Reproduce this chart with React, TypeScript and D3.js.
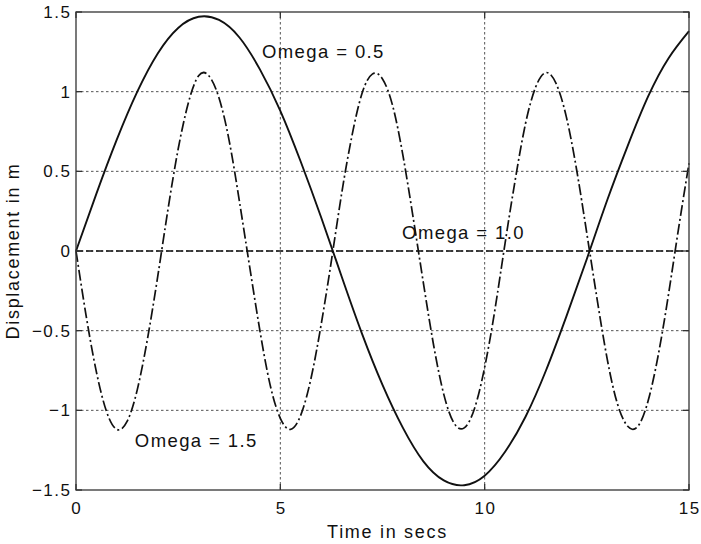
import { useEffect, useRef } from 'react';
import * as d3 from 'd3';

// time axis samples (s)
const timeA = [0, 0.5, 1, 1.5, 2, 2.5, 3, 3.5, 4, 4.5, 5, 5.5, 6, 6.5, 7, 7.5, 8, 8.5, 9, 9.5, 10, 10.5, 11, 11.5, 12, 12.5, 13, 13.5, 14, 14.5, 15];
// Omega = 0.5, solid
const omega05 = [0, 0.36, 0.70, 1.0, 1.24, 1.40, 1.47, 1.45, 1.34, 1.14, 0.88, 0.56, 0.21, -0.16, -0.52, -0.84, -1.11, -1.32, -1.44, -1.47, -1.41, -1.26, -1.04, -0.75, -0.41, -0.05, 0.32, 0.66, 0.97, 1.21, 1.38];

const timeB = [0, 0.25, 0.5, 0.75, 1, 1.25, 1.5, 1.75, 2, 2.25, 2.5, 2.75, 3, 3.25, 3.5, 3.75, 4, 4.25, 4.5, 4.75, 5, 5.25, 5.5, 5.75, 6, 6.25, 6.5, 6.75, 7, 7.25, 7.5, 7.75, 8, 8.25, 8.5, 8.75, 9, 9.25, 9.5, 9.75, 10, 10.25, 10.5, 10.75, 11, 11.25, 11.5, 11.75, 12, 12.25, 12.5, 12.75, 13, 13.25, 13.5, 13.75, 14, 14.25, 14.5, 14.75, 15];
// Omega = 1.5, dash-dot
const omega15 = [0, -0.41, -0.76, -1.01, -1.12, -1.07, -0.87, -0.55, -0.16, 0.26, 0.64, 0.93, 1.10, 1.10, 0.96, 0.69, 0.31, -0.10, -0.50, -0.84, -1.05, -1.12, -1.03, -0.80, -0.46, -0.06, 0.36, 0.72, 0.99, 1.11, 1.08, 0.91, 0.60, 0.21, -0.20, -0.59, -0.90, -1.08, -1.11, -0.99, -0.73, -0.37, 0.05, 0.45, 0.80, 1.03, 1.12, 1.05, 0.84, 0.51, 0.11, -0.30, -0.68, -0.96, -1.10, -1.10, -0.94, -0.65, -0.27, 0.15, 0.55];

// Omega = 1.0, dashed
const timeC = [0, 15];
const omega10 = [0, 0];

const xTicks = [0, 5, 10, 15];
const yTicks = [-1.5, -1, -0.5, 0, 0.5, 1, 1.5];

const labels = [
  { text: 'Omega = 0.5', t: 4.55, v: 1.21 },
  { text: 'Omega = 1.0', t: 7.98, v: 0.075 },
  { text: 'Omega = 1.5', t: 1.44, v: -1.23 },
];

const W = 701;
const H = 544;
const FONT = '"Liberation Sans", Arial, Helvetica, sans-serif';

export default function App() {
  const svgRef = useRef<SVGSVGElement>(null);

  useEffect(() => {
    if (!svgRef.current) return;
    const svg = d3.select(svgRef.current);
    svg.selectAll('*').remove();

    const m = { top: 12, right: 12, bottom: 54, left: 76 };
    const x = d3.scaleLinear().domain([0, 15]).range([m.left, W - m.right]);
    const y = d3.scaleLinear().domain([-1.5, 1.5]).range([H - m.bottom, m.top]);
    const [x0, x1] = x.range();
    const [y0, y1] = y.range();

    // grid
    const grid = svg.append('g').attr('stroke', '#555').attr('stroke-width', 1).attr('stroke-dasharray', '2.5,2.5');
    grid.selectAll('.gx').data([5, 10]).join('line')
      .attr('x1', (d) => x(d)).attr('x2', (d) => x(d)).attr('y1', y1).attr('y2', y0);
    grid.selectAll('.gy').data([-1, -0.5, 0, 0.5, 1]).join('line')
      .attr('x1', x0).attr('x2', x1).attr('y1', (d) => y(d)).attr('y2', (d) => y(d));

    const line = (ts: number[], vs: number[]) =>
      d3.line<number>().x((_, i) => x(ts[i])).y((d) => y(d)).curve(d3.curveNatural)(vs);

    svg.append('path').attr('d', line(timeC, omega10)).attr('fill', 'none')
      .attr('stroke', '#111').attr('stroke-width', 1.6).attr('stroke-dasharray', '7,3');
    svg.append('path').attr('d', line(timeB, omega15)).attr('fill', 'none')
      .attr('stroke', '#111').attr('stroke-width', 1.7).attr('stroke-dasharray', '11,3,2,3');
    svg.append('path').attr('d', line(timeA, omega05)).attr('fill', 'none')
      .attr('stroke', '#111').attr('stroke-width', 1.9);

    // box + inside ticks on all sides
    const ax = svg.append('g').attr('stroke', '#333').attr('stroke-width', 1.3);
    ax.append('rect').attr('x', x0).attr('y', y1).attr('width', x1 - x0).attr('height', y0 - y1).attr('fill', 'none');
    const tl = 6;
    ax.selectAll('.tb').data(xTicks).join('line')
      .attr('x1', (d) => x(d)).attr('x2', (d) => x(d)).attr('y1', y0).attr('y2', y0 - tl);
    ax.selectAll('.tt').data(xTicks).join('line')
      .attr('x1', (d) => x(d)).attr('x2', (d) => x(d)).attr('y1', y1).attr('y2', y1 + tl);
    ax.selectAll('.tl').data(yTicks).join('line')
      .attr('x1', x0).attr('x2', x0 + tl).attr('y1', (d) => y(d)).attr('y2', (d) => y(d));
    ax.selectAll('.tr').data(yTicks).join('line')
      .attr('x1', x1).attr('x2', x1 - tl).attr('y1', (d) => y(d)).attr('y2', (d) => y(d));

    const fmt = (d: number) => String(d).replace('-', '\u2212');
    const txt = svg.append('g').attr('fill', '#111').style('font-family', FONT);

    txt.selectAll('.xl').data(xTicks).join('text')
      .attr('x', (d) => x(d) + 0.8).attr('y', y0 + 24).attr('text-anchor', 'middle')
      .style('font-size', '17px').style('letter-spacing', '1.5px').text(fmt);
    txt.selectAll('.yl').data(yTicks).join('text')
      .attr('x', x0 - 4.5).attr('y', (d) => y(d) + 6).attr('text-anchor', 'end')
      .style('font-size', '17px').style('letter-spacing', '1.5px').text(fmt);

    txt.append('text').attr('x', (x0 + x1) / 2 + 5).attr('y', 538).attr('text-anchor', 'middle')
      .style('font-size', '18px').style('letter-spacing', '1.7px').text('Time in secs');
    txt.append('text').attr('transform', `translate(19,${(y0 + y1) / 2}) rotate(-90)`).attr('text-anchor', 'middle')
      .style('font-size', '18px').style('letter-spacing', '1.7px').text('Displacement in m');

    txt.selectAll('.ann').data(labels).join('text')
      .attr('x', (d) => x(d.t)).attr('y', (d) => y(d.v))
      .style('font-size', '18.5px').style('letter-spacing', '1.4px').text((d) => d.text);
  }, []);

  return (
    <div style={{ position: 'absolute', left: 0, top: 0, background: '#fff' }}>
      <svg ref={svgRef} width={W} height={H} style={{ display: 'block' }} />
    </div>
  );
}
